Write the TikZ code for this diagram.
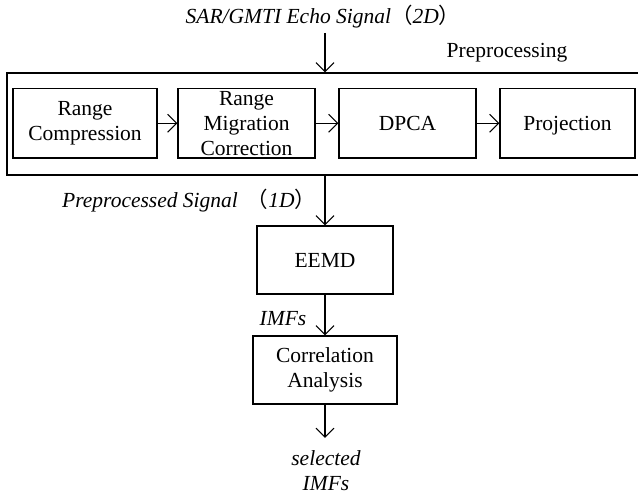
\documentclass[tikz,border=0pt]{standalone}
\usepackage{fontspec}
\setmainfont{Liberation Serif}
\newfontfamily\cjk{Noto Sans CJK SC}
\usetikzlibrary{arrows.meta}

\begin{document}
\begin{tikzpicture}[x=1pt,y=1pt,
  every node/.style={font=\fontsize{21.5}{25}\selectfont, inner sep=0pt},
  blk/.style={draw, line width=1.2pt, minimum height=69.5pt},
  txt/.style={align=center},
  lbl/.style={font=\fontsize{21.5}{25}\selectfont\itshape},
  arr/.style={line width=1.1pt, -{Straight Barb[length=9pt,width=18pt,line width=1.1pt]}}
]
\useasboundingbox (0,0) rectangle (638,495);

% input signal and preprocessing frame
\node[lbl, anchor=base] (title) at (323,471) {SAR/GMTI Echo Signal{\cjk （}2D{\cjk ）}};
\coordinate (in) at (325,462);
\node[draw, line width=1.2pt, minimum width=634pt, minimum height=102pt] (pre) at (324,371) {};
\node[anchor=base] (prelbl) at (507,437) {Preprocessing};

% preprocessing chain
\node[blk, minimum width=144pt] (rc) at (85,371.75) {};
\node[txt] at (rc) {Range\\Compression};
\node[blk, minimum width=137pt] (rmc) at (246.5,371.75) {};
\node[txt] at (rmc) {Range\\Migration\\Correction};
\node[blk, minimum width=137pt] (dpca) at (407.5,371.75) {};
\node[anchor=base] at ([yshift=-7.25pt]dpca.center) {DPCA};
\node[blk, minimum width=135pt] (proj) at (567.5,371.75) {};
\node[anchor=base] at ([yshift=-7.25pt]proj.center) {Projection};

\draw[arr] (rc) -- (rmc);
\draw[arr] (rmc) -- (dpca);
\draw[arr] (dpca) -- (proj);
\draw[arr] (in) -- (in |- pre.north);

% decomposition and selection
\node[blk, minimum width=136pt, minimum height=68pt] (eemd) at (325,235) {};
\node[anchor=base] at ([yshift=-7.25pt]eemd.center) {EEMD};
\node[blk, minimum width=144pt, minimum height=68pt, txt] (corr) at (325,125) {Correlation\\Analysis};
\coordinate (out) at (325,57);

\draw[arr] (eemd.north |- pre.south) -- (eemd.north);
\draw[arr] (eemd) -- (corr);
\draw[arr] (corr) -- (out);

\node[lbl, anchor=base west] (pslbl) at (62,287) {Preprocessed Signal \,{\cjk （}1D{\cjk ）}};
\node[lbl, anchor=base west] (imfs) at (259.5,169) {IMFs};
\node[lbl, txt, anchor=north] (sel) at (326,44.5) {selected\\IMFs};
\end{tikzpicture}
\end{document}
